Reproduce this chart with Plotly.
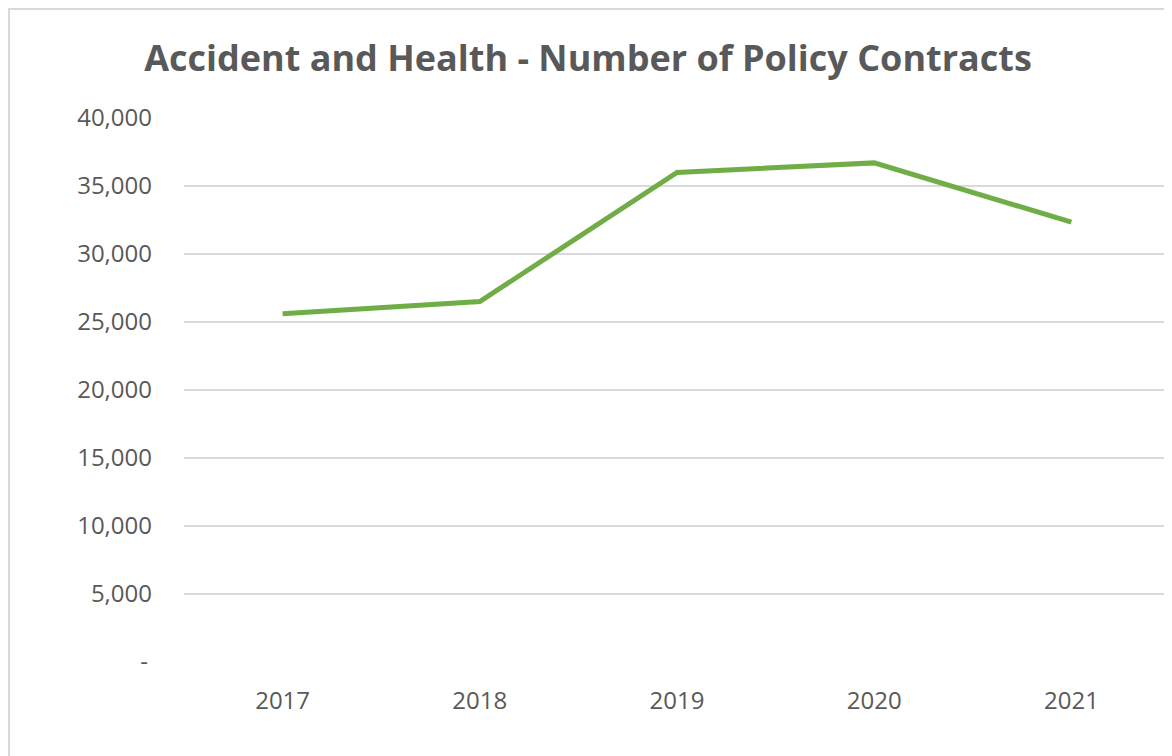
import plotly.graph_objects as go

years = ["2017", "2018", "2019", "2020", "2021"]
policy_contracts = [25600, 26500, 36000, 36700, 32350]

y_tickvals = [0, 5000, 10000, 15000, 20000, 25000, 30000, 35000, 40000]
y_ticktext = ["-\u2009", "5,000", "10,000", "15,000", "20,000",
              "25,000", "30,000", "35,000", "40,000"]

# page has an 8px body margin, so the figure is drawn 8px right/down
W, H = 1164, 748
L, R, T, B = 176, 2, 110, 94
pw, ph = W - L - R, H - T - B

def px_x(x):
    return (x - L) / pw

def px_y(y):
    return (H - B - y) / ph

fig = go.Figure()
fig.add_trace(go.Scatter(
    x=years, y=policy_contracts, mode="lines",
    line=dict(color="#70AD47", width=5),
    hoverinfo="x+y",
))

font_fam = "Open Sans, Liberation Sans, sans-serif"
fig.update_layout(
    width=W, height=H,
    margin=dict(l=L, r=R, t=T, b=B, pad=0),
    paper_bgcolor="white", plot_bgcolor="white",
    showlegend=False,
    title=dict(
        text="<b>Accident and Health - Number of Policy Contracts</b>",
        x=580 / W, xanchor="center", xref="container",
        y=1 - 50 / H, yanchor="middle", yref="container",
        font=dict(family=font_fam, size=36, color="#595959"),
    ),
    font=dict(family=font_fam, color="#595959", size=24),
    shapes=[dict(
        type="rect", xref="paper", yref="paper",
        x0=px_x(1), x1=px_x(1163), y0=px_y(780), y1=px_y(1),
        line=dict(color="#D9D9D9", width=2), fillcolor="rgba(0,0,0,0)",
        layer="below",
    )],
)

fig.update_xaxes(
    type="category", range=[-0.5, 4.5],
    showgrid=False, zeroline=False, showline=False,
    ticks="", ticklabelstandoff=22,
    tickfont=dict(family=font_fam, size=24, color="#595959"),
)
fig.update_yaxes(
    range=[0, 40000], tickvals=y_tickvals, ticktext=y_ticktext,
    showgrid=True, gridcolor="#D9D9D9", gridwidth=2,
    zeroline=False, showline=False, ticks="", ticklabelstandoff=31,
    tickfont=dict(family=font_fam, size=24, color="#595959"),
)

fig.write_html("out.html")
